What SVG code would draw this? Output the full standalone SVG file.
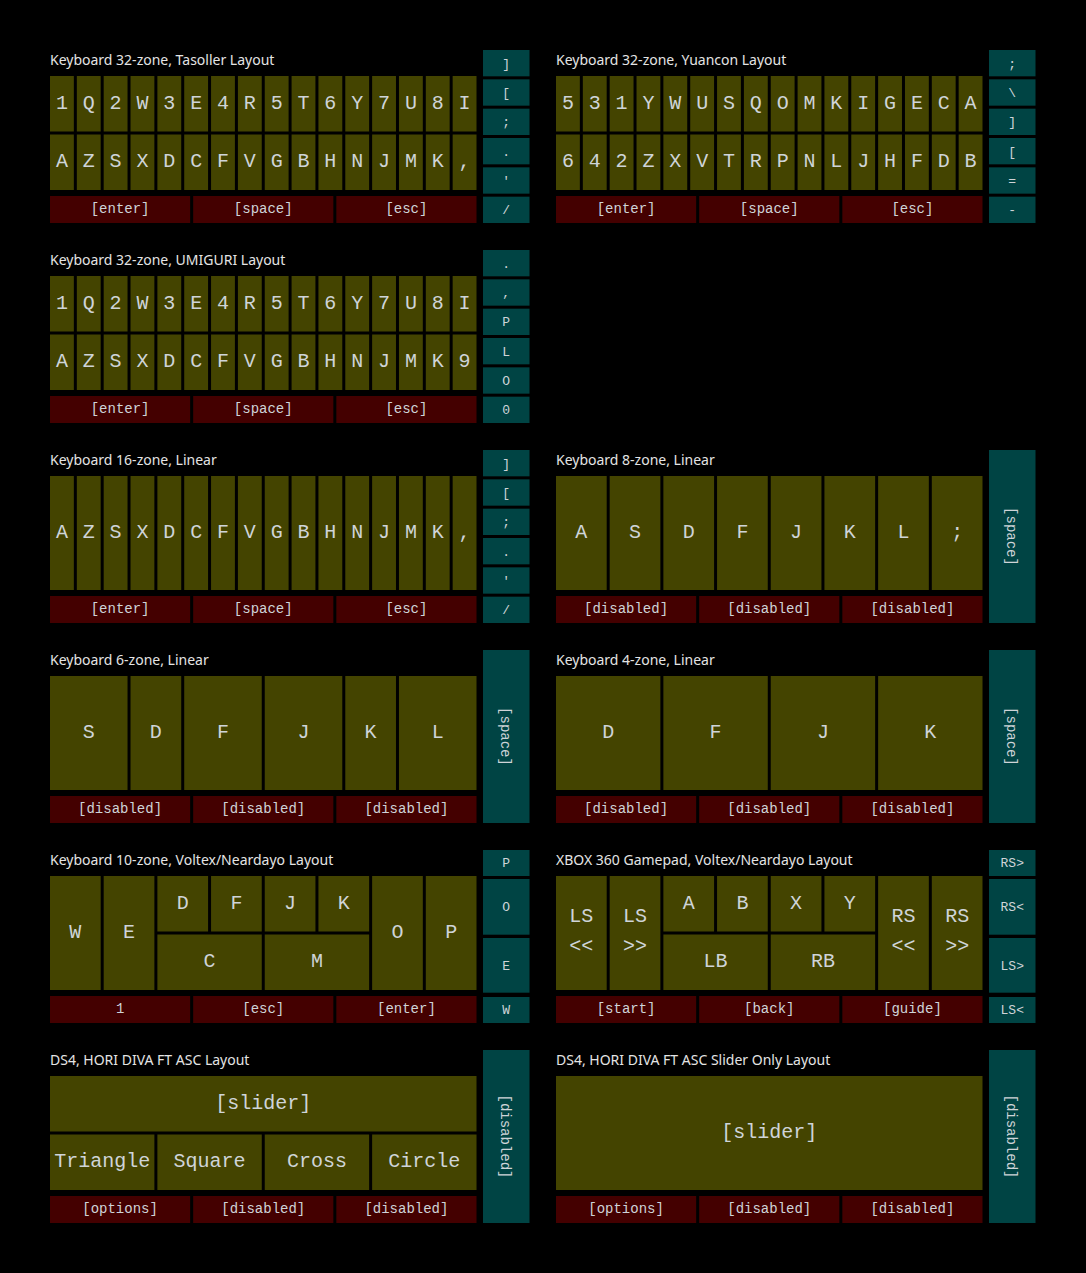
<svg xmlns="http://www.w3.org/2000/svg" width="1086" height="1273" viewBox="0 0 1086 1273">
<style>
.t{font-family:"Noto Sans","Open Sans",sans-serif;font-size:14px;fill:#e4e4e4}
.k{fill:#444400}
.b{fill:#440000}
.s{fill:#004444}
.kl{font-family:"Liberation Mono",monospace;font-size:20px;fill:#cfd4d8;text-anchor:middle}
.bl{font-family:"Liberation Mono",monospace;font-size:14px;fill:#cfd4d8;text-anchor:middle}
.sl{font-family:"Liberation Mono",monospace;font-size:13px;fill:#cfd4d8;text-anchor:middle}
</style>
<rect x="0" y="0" width="1086" height="1273" fill="#000"/>

<!-- Panel 1 -->
<g id="tasoller" transform="translate(50,50)">
<text class="t" x="0" y="15">Keyboard 32-zone, Tasoller Layout</text>
<g id="tasoller-top">
<rect class="k" x="0" y="26" width="23.84" height="55.5"/><text class="kl" x="11.92" y="58.75">1</text>
<rect class="k" x="26.84" y="26" width="23.84" height="55.5"/><text class="kl" x="38.77" y="58.75">Q</text>
<rect class="k" x="53.69" y="26" width="23.84" height="55.5"/><text class="kl" x="65.61" y="58.75">2</text>
<rect class="k" x="80.53" y="26" width="23.84" height="55.5"/><text class="kl" x="92.45" y="58.75">W</text>
<rect class="k" x="107.38" y="26" width="23.84" height="55.5"/><text class="kl" x="119.3" y="58.75">3</text>
<rect class="k" x="134.22" y="26" width="23.84" height="55.5"/><text class="kl" x="146.14" y="58.75">E</text>
<rect class="k" x="161.06" y="26" width="23.84" height="55.5"/><text class="kl" x="172.98" y="58.75">4</text>
<rect class="k" x="187.91" y="26" width="23.84" height="55.5"/><text class="kl" x="199.83" y="58.75">R</text>
<rect class="k" x="214.75" y="26" width="23.84" height="55.5"/><text class="kl" x="226.67" y="58.75">5</text>
<rect class="k" x="241.59" y="26" width="23.84" height="55.5"/><text class="kl" x="253.52" y="58.75">T</text>
<rect class="k" x="268.44" y="26" width="23.84" height="55.5"/><text class="kl" x="280.36" y="58.75">6</text>
<rect class="k" x="295.28" y="26" width="23.84" height="55.5"/><text class="kl" x="307.2" y="58.75">Y</text>
<rect class="k" x="322.13" y="26" width="23.84" height="55.5"/><text class="kl" x="334.05" y="58.75">7</text>
<rect class="k" x="348.97" y="26" width="23.84" height="55.5"/><text class="kl" x="360.89" y="58.75">U</text>
<rect class="k" x="375.81" y="26" width="23.84" height="55.5"/><text class="kl" x="387.73" y="58.75">8</text>
<rect class="k" x="402.66" y="26" width="23.84" height="55.5"/><text class="kl" x="414.58" y="58.75">I</text>
</g>
<g id="tasoller-bottom">
<rect class="k" x="0" y="84.5" width="23.84" height="55.5"/><text class="kl" x="11.92" y="117.25">A</text>
<rect class="k" x="26.84" y="84.5" width="23.84" height="55.5"/><text class="kl" x="38.77" y="117.25">Z</text>
<rect class="k" x="53.69" y="84.5" width="23.84" height="55.5"/><text class="kl" x="65.61" y="117.25">S</text>
<rect class="k" x="80.53" y="84.5" width="23.84" height="55.5"/><text class="kl" x="92.45" y="117.25">X</text>
<rect class="k" x="107.38" y="84.5" width="23.84" height="55.5"/><text class="kl" x="119.3" y="117.25">D</text>
<rect class="k" x="134.22" y="84.5" width="23.84" height="55.5"/><text class="kl" x="146.14" y="117.25">C</text>
<rect class="k" x="161.06" y="84.5" width="23.84" height="55.5"/><text class="kl" x="172.98" y="117.25">F</text>
<rect class="k" x="187.91" y="84.5" width="23.84" height="55.5"/><text class="kl" x="199.83" y="117.25">V</text>
<rect class="k" x="214.75" y="84.5" width="23.84" height="55.5"/><text class="kl" x="226.67" y="117.25">G</text>
<rect class="k" x="241.59" y="84.5" width="23.84" height="55.5"/><text class="kl" x="253.52" y="117.25">B</text>
<rect class="k" x="268.44" y="84.5" width="23.84" height="55.5"/><text class="kl" x="280.36" y="117.25">H</text>
<rect class="k" x="295.28" y="84.5" width="23.84" height="55.5"/><text class="kl" x="307.2" y="117.25">N</text>
<rect class="k" x="322.13" y="84.5" width="23.84" height="55.5"/><text class="kl" x="334.05" y="117.25">J</text>
<rect class="k" x="348.97" y="84.5" width="23.84" height="55.5"/><text class="kl" x="360.89" y="117.25">M</text>
<rect class="k" x="375.81" y="84.5" width="23.84" height="55.5"/><text class="kl" x="387.73" y="117.25">K</text>
<rect class="k" x="402.66" y="84.5" width="23.84" height="55.5"/><text class="kl" x="414.58" y="117.25">,</text>
</g>
<g id="tasoller-bar">
<rect class="b" x="0" y="146" width="140.17" height="27"/><text class="bl" x="70.08" y="163">[enter]</text>
<rect class="b" x="143.17" y="146" width="140.17" height="27"/><text class="bl" x="213.25" y="163">[space]</text>
<rect class="b" x="286.33" y="146" width="140.17" height="27"/><text class="bl" x="356.42" y="163">[esc]</text>
</g>
<g id="tasoller-side">
<rect class="s" x="433" y="0" width="46.5" height="26.33"/><text class="sl" x="456.25" y="17.6">]</text>
<rect class="s" x="433" y="29.33" width="46.5" height="26.33"/><text class="sl" x="456.25" y="46.9">[</text>
<rect class="s" x="433" y="58.67" width="46.5" height="26.33"/><text class="sl" x="456.25" y="76.3">;</text>
<rect class="s" x="433" y="88" width="46.5" height="26.33"/><text class="sl" x="456.25" y="105.6">.</text>
<rect class="s" x="433" y="117.33" width="46.5" height="26.33"/><text class="sl" x="456.25" y="134.9">'</text>
<rect class="s" x="433" y="146.67" width="46.5" height="26.33"/><text class="sl" x="456.25" y="164.3">/</text>
</g>
</g>

<!-- Panel 2 -->
<g id="yuancon" transform="translate(556,50)">
<text class="t" x="0" y="15">Keyboard 32-zone, Yuancon Layout</text>
<g id="yuancon-top">
<rect class="k" x="0" y="26" width="23.84" height="55.5"/><text class="kl" x="11.92" y="58.75">5</text>
<rect class="k" x="26.84" y="26" width="23.84" height="55.5"/><text class="kl" x="38.77" y="58.75">3</text>
<rect class="k" x="53.69" y="26" width="23.84" height="55.5"/><text class="kl" x="65.61" y="58.75">1</text>
<rect class="k" x="80.53" y="26" width="23.84" height="55.5"/><text class="kl" x="92.45" y="58.75">Y</text>
<rect class="k" x="107.38" y="26" width="23.84" height="55.5"/><text class="kl" x="119.3" y="58.75">W</text>
<rect class="k" x="134.22" y="26" width="23.84" height="55.5"/><text class="kl" x="146.14" y="58.75">U</text>
<rect class="k" x="161.06" y="26" width="23.84" height="55.5"/><text class="kl" x="172.98" y="58.75">S</text>
<rect class="k" x="187.91" y="26" width="23.84" height="55.5"/><text class="kl" x="199.83" y="58.75">Q</text>
<rect class="k" x="214.75" y="26" width="23.84" height="55.5"/><text class="kl" x="226.67" y="58.75">O</text>
<rect class="k" x="241.59" y="26" width="23.84" height="55.5"/><text class="kl" x="253.52" y="58.75">M</text>
<rect class="k" x="268.44" y="26" width="23.84" height="55.5"/><text class="kl" x="280.36" y="58.75">K</text>
<rect class="k" x="295.28" y="26" width="23.84" height="55.5"/><text class="kl" x="307.2" y="58.75">I</text>
<rect class="k" x="322.13" y="26" width="23.84" height="55.5"/><text class="kl" x="334.05" y="58.75">G</text>
<rect class="k" x="348.97" y="26" width="23.84" height="55.5"/><text class="kl" x="360.89" y="58.75">E</text>
<rect class="k" x="375.81" y="26" width="23.84" height="55.5"/><text class="kl" x="387.73" y="58.75">C</text>
<rect class="k" x="402.66" y="26" width="23.84" height="55.5"/><text class="kl" x="414.58" y="58.75">A</text>
</g>
<g id="yuancon-bottom">
<rect class="k" x="0" y="84.5" width="23.84" height="55.5"/><text class="kl" x="11.92" y="117.25">6</text>
<rect class="k" x="26.84" y="84.5" width="23.84" height="55.5"/><text class="kl" x="38.77" y="117.25">4</text>
<rect class="k" x="53.69" y="84.5" width="23.84" height="55.5"/><text class="kl" x="65.61" y="117.25">2</text>
<rect class="k" x="80.53" y="84.5" width="23.84" height="55.5"/><text class="kl" x="92.45" y="117.25">Z</text>
<rect class="k" x="107.38" y="84.5" width="23.84" height="55.5"/><text class="kl" x="119.3" y="117.25">X</text>
<rect class="k" x="134.22" y="84.5" width="23.84" height="55.5"/><text class="kl" x="146.14" y="117.25">V</text>
<rect class="k" x="161.06" y="84.5" width="23.84" height="55.5"/><text class="kl" x="172.98" y="117.25">T</text>
<rect class="k" x="187.91" y="84.5" width="23.84" height="55.5"/><text class="kl" x="199.83" y="117.25">R</text>
<rect class="k" x="214.75" y="84.5" width="23.84" height="55.5"/><text class="kl" x="226.67" y="117.25">P</text>
<rect class="k" x="241.59" y="84.5" width="23.84" height="55.5"/><text class="kl" x="253.52" y="117.25">N</text>
<rect class="k" x="268.44" y="84.5" width="23.84" height="55.5"/><text class="kl" x="280.36" y="117.25">L</text>
<rect class="k" x="295.28" y="84.5" width="23.84" height="55.5"/><text class="kl" x="307.2" y="117.25">J</text>
<rect class="k" x="322.13" y="84.5" width="23.84" height="55.5"/><text class="kl" x="334.05" y="117.25">H</text>
<rect class="k" x="348.97" y="84.5" width="23.84" height="55.5"/><text class="kl" x="360.89" y="117.25">F</text>
<rect class="k" x="375.81" y="84.5" width="23.84" height="55.5"/><text class="kl" x="387.73" y="117.25">D</text>
<rect class="k" x="402.66" y="84.5" width="23.84" height="55.5"/><text class="kl" x="414.58" y="117.25">B</text>
</g>
<g id="yuancon-bar">
<rect class="b" x="0" y="146" width="140.17" height="27"/><text class="bl" x="70.08" y="163">[enter]</text>
<rect class="b" x="143.17" y="146" width="140.17" height="27"/><text class="bl" x="213.25" y="163">[space]</text>
<rect class="b" x="286.33" y="146" width="140.17" height="27"/><text class="bl" x="356.42" y="163">[esc]</text>
</g>
<g id="yuancon-side">
<rect class="s" x="433" y="0" width="46.5" height="26.33"/><text class="sl" x="456.25" y="17.6">;</text>
<rect class="s" x="433" y="29.33" width="46.5" height="26.33"/><text class="sl" x="456.25" y="46.9">\</text>
<rect class="s" x="433" y="58.67" width="46.5" height="26.33"/><text class="sl" x="456.25" y="76.3">]</text>
<rect class="s" x="433" y="88" width="46.5" height="26.33"/><text class="sl" x="456.25" y="105.6">[</text>
<rect class="s" x="433" y="117.33" width="46.5" height="26.33"/><text class="sl" x="456.25" y="134.9">=</text>
<rect class="s" x="433" y="146.67" width="46.5" height="26.33"/><text class="sl" x="456.25" y="164.3">-</text>
</g>
</g>

<!-- Panel 3 -->
<g id="umiguri" transform="translate(50,250)">
<text class="t" x="0" y="15">Keyboard 32-zone, UMIGURI Layout</text>
<g id="umiguri-top">
<rect class="k" x="0" y="26" width="23.84" height="55.5"/><text class="kl" x="11.92" y="58.75">1</text>
<rect class="k" x="26.84" y="26" width="23.84" height="55.5"/><text class="kl" x="38.77" y="58.75">Q</text>
<rect class="k" x="53.69" y="26" width="23.84" height="55.5"/><text class="kl" x="65.61" y="58.75">2</text>
<rect class="k" x="80.53" y="26" width="23.84" height="55.5"/><text class="kl" x="92.45" y="58.75">W</text>
<rect class="k" x="107.38" y="26" width="23.84" height="55.5"/><text class="kl" x="119.3" y="58.75">3</text>
<rect class="k" x="134.22" y="26" width="23.84" height="55.5"/><text class="kl" x="146.14" y="58.75">E</text>
<rect class="k" x="161.06" y="26" width="23.84" height="55.5"/><text class="kl" x="172.98" y="58.75">4</text>
<rect class="k" x="187.91" y="26" width="23.84" height="55.5"/><text class="kl" x="199.83" y="58.75">R</text>
<rect class="k" x="214.75" y="26" width="23.84" height="55.5"/><text class="kl" x="226.67" y="58.75">5</text>
<rect class="k" x="241.59" y="26" width="23.84" height="55.5"/><text class="kl" x="253.52" y="58.75">T</text>
<rect class="k" x="268.44" y="26" width="23.84" height="55.5"/><text class="kl" x="280.36" y="58.75">6</text>
<rect class="k" x="295.28" y="26" width="23.84" height="55.5"/><text class="kl" x="307.2" y="58.75">Y</text>
<rect class="k" x="322.13" y="26" width="23.84" height="55.5"/><text class="kl" x="334.05" y="58.75">7</text>
<rect class="k" x="348.97" y="26" width="23.84" height="55.5"/><text class="kl" x="360.89" y="58.75">U</text>
<rect class="k" x="375.81" y="26" width="23.84" height="55.5"/><text class="kl" x="387.73" y="58.75">8</text>
<rect class="k" x="402.66" y="26" width="23.84" height="55.5"/><text class="kl" x="414.58" y="58.75">I</text>
</g>
<g id="umiguri-bottom">
<rect class="k" x="0" y="84.5" width="23.84" height="55.5"/><text class="kl" x="11.92" y="117.25">A</text>
<rect class="k" x="26.84" y="84.5" width="23.84" height="55.5"/><text class="kl" x="38.77" y="117.25">Z</text>
<rect class="k" x="53.69" y="84.5" width="23.84" height="55.5"/><text class="kl" x="65.61" y="117.25">S</text>
<rect class="k" x="80.53" y="84.5" width="23.84" height="55.5"/><text class="kl" x="92.45" y="117.25">X</text>
<rect class="k" x="107.38" y="84.5" width="23.84" height="55.5"/><text class="kl" x="119.3" y="117.25">D</text>
<rect class="k" x="134.22" y="84.5" width="23.84" height="55.5"/><text class="kl" x="146.14" y="117.25">C</text>
<rect class="k" x="161.06" y="84.5" width="23.84" height="55.5"/><text class="kl" x="172.98" y="117.25">F</text>
<rect class="k" x="187.91" y="84.5" width="23.84" height="55.5"/><text class="kl" x="199.83" y="117.25">V</text>
<rect class="k" x="214.75" y="84.5" width="23.84" height="55.5"/><text class="kl" x="226.67" y="117.25">G</text>
<rect class="k" x="241.59" y="84.5" width="23.84" height="55.5"/><text class="kl" x="253.52" y="117.25">B</text>
<rect class="k" x="268.44" y="84.5" width="23.84" height="55.5"/><text class="kl" x="280.36" y="117.25">H</text>
<rect class="k" x="295.28" y="84.5" width="23.84" height="55.5"/><text class="kl" x="307.2" y="117.25">N</text>
<rect class="k" x="322.13" y="84.5" width="23.84" height="55.5"/><text class="kl" x="334.05" y="117.25">J</text>
<rect class="k" x="348.97" y="84.5" width="23.84" height="55.5"/><text class="kl" x="360.89" y="117.25">M</text>
<rect class="k" x="375.81" y="84.5" width="23.84" height="55.5"/><text class="kl" x="387.73" y="117.25">K</text>
<rect class="k" x="402.66" y="84.5" width="23.84" height="55.5"/><text class="kl" x="414.58" y="117.25">9</text>
</g>
<g id="umiguri-bar">
<rect class="b" x="0" y="146" width="140.17" height="27"/><text class="bl" x="70.08" y="163">[enter]</text>
<rect class="b" x="143.17" y="146" width="140.17" height="27"/><text class="bl" x="213.25" y="163">[space]</text>
<rect class="b" x="286.33" y="146" width="140.17" height="27"/><text class="bl" x="356.42" y="163">[esc]</text>
</g>
<g id="umiguri-side">
<rect class="s" x="433" y="0" width="46.5" height="26.33"/><text class="sl" x="456.25" y="17.6">.</text>
<rect class="s" x="433" y="29.33" width="46.5" height="26.33"/><text class="sl" x="456.25" y="46.9">,</text>
<rect class="s" x="433" y="58.67" width="46.5" height="26.33"/><text class="sl" x="456.25" y="76.3">P</text>
<rect class="s" x="433" y="88" width="46.5" height="26.33"/><text class="sl" x="456.25" y="105.6">L</text>
<rect class="s" x="433" y="117.33" width="46.5" height="26.33"/><text class="sl" x="456.25" y="134.9">O</text>
<rect class="s" x="433" y="146.67" width="46.5" height="26.33"/><text class="sl" x="456.25" y="164.3">0</text>
</g>
</g>

<!-- Panel 4 -->
<g id="linear16" transform="translate(50,450)">
<text class="t" x="0" y="15">Keyboard 16-zone, Linear</text>
<g id="linear16-keys">
<rect class="k" x="0" y="26" width="23.84" height="114"/><text class="kl" x="11.92" y="88">A</text>
<rect class="k" x="26.84" y="26" width="23.84" height="114"/><text class="kl" x="38.77" y="88">Z</text>
<rect class="k" x="53.69" y="26" width="23.84" height="114"/><text class="kl" x="65.61" y="88">S</text>
<rect class="k" x="80.53" y="26" width="23.84" height="114"/><text class="kl" x="92.45" y="88">X</text>
<rect class="k" x="107.38" y="26" width="23.84" height="114"/><text class="kl" x="119.3" y="88">D</text>
<rect class="k" x="134.22" y="26" width="23.84" height="114"/><text class="kl" x="146.14" y="88">C</text>
<rect class="k" x="161.06" y="26" width="23.84" height="114"/><text class="kl" x="172.98" y="88">F</text>
<rect class="k" x="187.91" y="26" width="23.84" height="114"/><text class="kl" x="199.83" y="88">V</text>
<rect class="k" x="214.75" y="26" width="23.84" height="114"/><text class="kl" x="226.67" y="88">G</text>
<rect class="k" x="241.59" y="26" width="23.84" height="114"/><text class="kl" x="253.52" y="88">B</text>
<rect class="k" x="268.44" y="26" width="23.84" height="114"/><text class="kl" x="280.36" y="88">H</text>
<rect class="k" x="295.28" y="26" width="23.84" height="114"/><text class="kl" x="307.2" y="88">N</text>
<rect class="k" x="322.13" y="26" width="23.84" height="114"/><text class="kl" x="334.05" y="88">J</text>
<rect class="k" x="348.97" y="26" width="23.84" height="114"/><text class="kl" x="360.89" y="88">M</text>
<rect class="k" x="375.81" y="26" width="23.84" height="114"/><text class="kl" x="387.73" y="88">K</text>
<rect class="k" x="402.66" y="26" width="23.84" height="114"/><text class="kl" x="414.58" y="88">,</text>
</g>
<g id="linear16-bar">
<rect class="b" x="0" y="146" width="140.17" height="27"/><text class="bl" x="70.08" y="163">[enter]</text>
<rect class="b" x="143.17" y="146" width="140.17" height="27"/><text class="bl" x="213.25" y="163">[space]</text>
<rect class="b" x="286.33" y="146" width="140.17" height="27"/><text class="bl" x="356.42" y="163">[esc]</text>
</g>
<g id="linear16-side">
<rect class="s" x="433" y="0" width="46.5" height="26.33"/><text class="sl" x="456.25" y="17.6">]</text>
<rect class="s" x="433" y="29.33" width="46.5" height="26.33"/><text class="sl" x="456.25" y="46.9">[</text>
<rect class="s" x="433" y="58.67" width="46.5" height="26.33"/><text class="sl" x="456.25" y="76.3">;</text>
<rect class="s" x="433" y="88" width="46.5" height="26.33"/><text class="sl" x="456.25" y="105.6">.</text>
<rect class="s" x="433" y="117.33" width="46.5" height="26.33"/><text class="sl" x="456.25" y="134.9">'</text>
<rect class="s" x="433" y="146.67" width="46.5" height="26.33"/><text class="sl" x="456.25" y="164.3">/</text>
</g>
</g>

<!-- Panel 5 -->
<g id="linear8" transform="translate(556,450)">
<text class="t" x="0" y="15">Keyboard 8-zone, Linear</text>
<g id="linear8-keys">
<rect class="k" x="0" y="26" width="50.69" height="114"/><text class="kl" x="25.34" y="88">A</text>
<rect class="k" x="53.69" y="26" width="50.69" height="114"/><text class="kl" x="79.03" y="88">S</text>
<rect class="k" x="107.38" y="26" width="50.69" height="114"/><text class="kl" x="132.72" y="88">D</text>
<rect class="k" x="161.06" y="26" width="50.69" height="114"/><text class="kl" x="186.41" y="88">F</text>
<rect class="k" x="214.75" y="26" width="50.69" height="114"/><text class="kl" x="240.09" y="88">J</text>
<rect class="k" x="268.44" y="26" width="50.69" height="114"/><text class="kl" x="293.78" y="88">K</text>
<rect class="k" x="322.13" y="26" width="50.69" height="114"/><text class="kl" x="347.47" y="88">L</text>
<rect class="k" x="375.81" y="26" width="50.69" height="114"/><text class="kl" x="401.16" y="88">;</text>
</g>
<g id="linear8-bar">
<rect class="b" x="0" y="146" width="140.17" height="27"/><text class="bl" x="70.08" y="163">[disabled]</text>
<rect class="b" x="143.17" y="146" width="140.17" height="27"/><text class="bl" x="213.25" y="163">[disabled]</text>
<rect class="b" x="286.33" y="146" width="140.17" height="27"/><text class="bl" x="356.42" y="163">[disabled]</text>
</g>
<g id="linear8-side">
<rect class="s" x="433" y="0" width="46.5" height="173"/><text class="bl" transform="translate(456.25,86.5) rotate(90)" x="0" y="5">[space]</text>
</g>
</g>

<!-- Panel 6 -->
<g id="linear6" transform="translate(50,650)">
<text class="t" x="0" y="15">Keyboard 6-zone, Linear</text>
<g id="linear6-keys">
<rect class="k" x="0" y="26" width="77.53" height="114"/><text class="kl" x="38.77" y="88">S</text>
<rect class="k" x="80.53" y="26" width="50.69" height="114"/><text class="kl" x="105.88" y="88">D</text>
<rect class="k" x="134.22" y="26" width="77.53" height="114"/><text class="kl" x="172.98" y="88">F</text>
<rect class="k" x="214.75" y="26" width="77.53" height="114"/><text class="kl" x="253.52" y="88">J</text>
<rect class="k" x="295.28" y="26" width="50.69" height="114"/><text class="kl" x="320.63" y="88">K</text>
<rect class="k" x="348.97" y="26" width="77.53" height="114"/><text class="kl" x="387.73" y="88">L</text>
</g>
<g id="linear6-bar">
<rect class="b" x="0" y="146" width="140.17" height="27"/><text class="bl" x="70.08" y="163">[disabled]</text>
<rect class="b" x="143.17" y="146" width="140.17" height="27"/><text class="bl" x="213.25" y="163">[disabled]</text>
<rect class="b" x="286.33" y="146" width="140.17" height="27"/><text class="bl" x="356.42" y="163">[disabled]</text>
</g>
<g id="linear6-side">
<rect class="s" x="433" y="0" width="46.5" height="173"/><text class="bl" transform="translate(456.25,86.5) rotate(90)" x="0" y="5">[space]</text>
</g>
</g>

<!-- Panel 7 -->
<g id="linear4" transform="translate(556,650)">
<text class="t" x="0" y="15">Keyboard 4-zone, Linear</text>
<g id="linear4-keys">
<rect class="k" x="0" y="26" width="104.38" height="114"/><text class="kl" x="52.19" y="88">D</text>
<rect class="k" x="107.38" y="26" width="104.38" height="114"/><text class="kl" x="159.56" y="88">F</text>
<rect class="k" x="214.75" y="26" width="104.38" height="114"/><text class="kl" x="266.94" y="88">J</text>
<rect class="k" x="322.13" y="26" width="104.38" height="114"/><text class="kl" x="374.31" y="88">K</text>
</g>
<g id="linear4-bar">
<rect class="b" x="0" y="146" width="140.17" height="27"/><text class="bl" x="70.08" y="163">[disabled]</text>
<rect class="b" x="143.17" y="146" width="140.17" height="27"/><text class="bl" x="213.25" y="163">[disabled]</text>
<rect class="b" x="286.33" y="146" width="140.17" height="27"/><text class="bl" x="356.42" y="163">[disabled]</text>
</g>
<g id="linear4-side">
<rect class="s" x="433" y="0" width="46.5" height="173"/><text class="bl" transform="translate(456.25,86.5) rotate(90)" x="0" y="5">[space]</text>
</g>
</g>

<!-- Panel 8 -->
<g id="voltex" transform="translate(50,850)">
<text class="t" x="0" y="15">Keyboard 10-zone, Voltex/Neardayo Layout</text>
<g id="voltex-keys">
<rect class="k" x="0" y="26" width="50.69" height="114"/><text class="kl" x="25.34" y="88">W</text>
<rect class="k" x="53.69" y="26" width="50.69" height="114"/><text class="kl" x="79.03" y="88">E</text>
<rect class="k" x="107.38" y="26" width="50.69" height="55.5"/><text class="kl" x="132.72" y="58.75">D</text>
<rect class="k" x="161.06" y="26" width="50.69" height="55.5"/><text class="kl" x="186.41" y="58.75">F</text>
<rect class="k" x="214.75" y="26" width="50.69" height="55.5"/><text class="kl" x="240.09" y="58.75">J</text>
<rect class="k" x="268.44" y="26" width="50.69" height="55.5"/><text class="kl" x="293.78" y="58.75">K</text>
<rect class="k" x="107.38" y="84.5" width="104.38" height="55.5"/><text class="kl" x="159.56" y="117.25">C</text>
<rect class="k" x="214.75" y="84.5" width="104.38" height="55.5"/><text class="kl" x="266.94" y="117.25">M</text>
<rect class="k" x="322.13" y="26" width="50.69" height="114"/><text class="kl" x="347.47" y="88">O</text>
<rect class="k" x="375.81" y="26" width="50.69" height="114"/><text class="kl" x="401.16" y="88">P</text>
</g>
<g id="voltex-bar">
<rect class="b" x="0" y="146" width="140.17" height="27"/><text class="bl" x="70.08" y="163">1</text>
<rect class="b" x="143.17" y="146" width="140.17" height="27"/><text class="bl" x="213.25" y="163">[esc]</text>
<rect class="b" x="286.33" y="146" width="140.17" height="27"/><text class="bl" x="356.42" y="163">[enter]</text>
</g>
<g id="voltex-side">
<rect class="s" x="433" y="0" width="46.5" height="26"/><text class="sl" x="456.25" y="17.4">P</text>
<rect class="s" x="433" y="29" width="46.5" height="55.7"/><text class="sl" x="456.25" y="61.3">O</text>
<rect class="s" x="433" y="88" width="46.5" height="54.7"/><text class="sl" x="456.25" y="119.8">E</text>
<rect class="s" x="433" y="147" width="46.5" height="26"/><text class="sl" x="456.25" y="164.4">W</text>
</g>
</g>

<!-- Panel 9 -->
<g id="xbox" transform="translate(556,850)">
<text class="t" x="0" y="15">XBOX 360 Gamepad, Voltex/Neardayo Layout</text>
<g id="xbox-keys">
<rect class="k" x="0" y="26" width="50.69" height="114"/><text class="kl" x="25.34" y="72">LS</text><text class="kl" x="25.34" y="102">&lt;&lt;</text>
<rect class="k" x="53.69" y="26" width="50.69" height="114"/><text class="kl" x="79.03" y="72">LS</text><text class="kl" x="79.03" y="102">&gt;&gt;</text>
<rect class="k" x="107.38" y="26" width="50.69" height="55.5"/><text class="kl" x="132.72" y="58.75">A</text>
<rect class="k" x="161.06" y="26" width="50.69" height="55.5"/><text class="kl" x="186.41" y="58.75">B</text>
<rect class="k" x="214.75" y="26" width="50.69" height="55.5"/><text class="kl" x="240.09" y="58.75">X</text>
<rect class="k" x="268.44" y="26" width="50.69" height="55.5"/><text class="kl" x="293.78" y="58.75">Y</text>
<rect class="k" x="107.38" y="84.5" width="104.38" height="55.5"/><text class="kl" x="159.56" y="117.25">LB</text>
<rect class="k" x="214.75" y="84.5" width="104.38" height="55.5"/><text class="kl" x="266.94" y="117.25">RB</text>
<rect class="k" x="322.13" y="26" width="50.69" height="114"/><text class="kl" x="347.47" y="72">RS</text><text class="kl" x="347.47" y="102">&lt;&lt;</text>
<rect class="k" x="375.81" y="26" width="50.69" height="114"/><text class="kl" x="401.16" y="72">RS</text><text class="kl" x="401.16" y="102">&gt;&gt;</text>
</g>
<g id="xbox-bar">
<rect class="b" x="0" y="146" width="140.17" height="27"/><text class="bl" x="70.08" y="163">[start]</text>
<rect class="b" x="143.17" y="146" width="140.17" height="27"/><text class="bl" x="213.25" y="163">[back]</text>
<rect class="b" x="286.33" y="146" width="140.17" height="27"/><text class="bl" x="356.42" y="163">[guide]</text>
</g>
<g id="xbox-side">
<rect class="s" x="433" y="0" width="46.5" height="26"/><text class="sl" x="456.25" y="17.4">RS&gt;</text>
<rect class="s" x="433" y="29" width="46.5" height="55.7"/><text class="sl" x="456.25" y="61.3">RS&lt;</text>
<rect class="s" x="433" y="88" width="46.5" height="54.7"/><text class="sl" x="456.25" y="119.8">LS&gt;</text>
<rect class="s" x="433" y="147" width="46.5" height="26"/><text class="sl" x="456.25" y="164.4">LS&lt;</text>
</g>
</g>

<!-- Panel 10 -->
<g id="ds4" transform="translate(50,1050)">
<text class="t" x="0" y="15">DS4, HORI DIVA FT ASC Layout</text>
<g id="ds4-keys">
<rect class="k" x="0" y="26" width="426.5" height="55.5"/><text class="kl" x="213.25" y="58.75">[slider]</text>
<rect class="k" x="0" y="84.5" width="104.38" height="55.5"/><text class="kl" x="52.19" y="117.25">Triangle</text>
<rect class="k" x="107.38" y="84.5" width="104.38" height="55.5"/><text class="kl" x="159.56" y="117.25">Square</text>
<rect class="k" x="214.75" y="84.5" width="104.38" height="55.5"/><text class="kl" x="266.94" y="117.25">Cross</text>
<rect class="k" x="322.13" y="84.5" width="104.38" height="55.5"/><text class="kl" x="374.31" y="117.25">Circle</text>
</g>
<g id="ds4-bar">
<rect class="b" x="0" y="146" width="140.17" height="27"/><text class="bl" x="70.08" y="163">[options]</text>
<rect class="b" x="143.17" y="146" width="140.17" height="27"/><text class="bl" x="213.25" y="163">[disabled]</text>
<rect class="b" x="286.33" y="146" width="140.17" height="27"/><text class="bl" x="356.42" y="163">[disabled]</text>
</g>
<g id="ds4-side">
<rect class="s" x="433" y="0" width="46.5" height="173"/><text class="bl" transform="translate(456.25,86.5) rotate(90)" x="0" y="5">[disabled]</text>
</g>
</g>

<!-- Panel 11 -->
<g id="ds4slider" transform="translate(556,1050)">
<text class="t" x="0" y="15">DS4, HORI DIVA FT ASC Slider Only Layout</text>
<g id="ds4slider-keys">
<rect class="k" x="0" y="26" width="426.5" height="114"/><text class="kl" x="213.25" y="88">[slider]</text>
</g>
<g id="ds4slider-bar">
<rect class="b" x="0" y="146" width="140.17" height="27"/><text class="bl" x="70.08" y="163">[options]</text>
<rect class="b" x="143.17" y="146" width="140.17" height="27"/><text class="bl" x="213.25" y="163">[disabled]</text>
<rect class="b" x="286.33" y="146" width="140.17" height="27"/><text class="bl" x="356.42" y="163">[disabled]</text>
</g>
<g id="ds4slider-side">
<rect class="s" x="433" y="0" width="46.5" height="173"/><text class="bl" transform="translate(456.25,86.5) rotate(90)" x="0" y="5">[disabled]</text>
</g>
</g>

<g id="connectors"></g>
</svg>
